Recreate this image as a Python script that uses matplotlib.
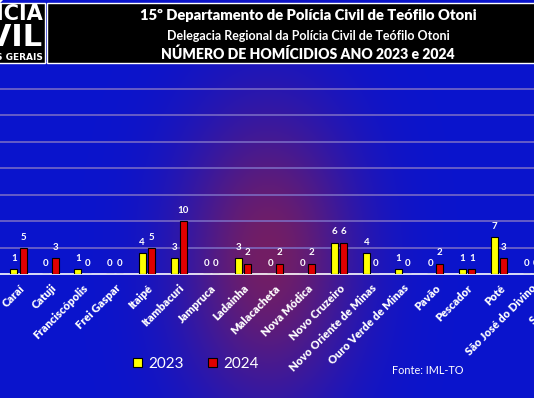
import numpy as np
import matplotlib.pyplot as plt
from matplotlib.patches import Rectangle

plt.rcParams['font.family'] = ['Lato', 'DejaVu Sans']

# municipalities (last one is cut off at the right edge, only its label shows)
municipios = ['Caraí', 'Catuji', 'Franciscópolis', 'Frei Gaspar', 'Itaipé', 'Itambacuri',
              'Jampruca', 'Ladainha', 'Malacacheta', 'Nova Módica', 'Novo Cruzeiro',
              'Novo Oriente de Minas', 'Ouro Verde de Minas', 'Pavão', 'Pescador', 'Poté',
              'São José do Divino', 'Setubinha']
hom_2023 = [1, 0, 1, 0, 4, 3, 0, 3, 0, 0, 6, 4, 1, 0, 1, 7, 0]
hom_2024 = [5, 3, 0, 0, 5, 10, 0, 2, 2, 2, 6, 0, 0, 2, 1, 3, 0]
anos = ['2023', '2024']

titulo1 = '15º Departamento de Polícia Civil de Teófilo Otoni'
titulo2 = 'Delegacia Regional da Polícia Civil de Teófilo Otoni'
titulo3 = 'NÚMERO DE HOMÍCIDIOS ANO 2023 e 2024'
fonte = 'Fonte: IML-TO'

W, H = 534, 398
fig = plt.figure(figsize=(W / 100, H / 100), dpi=100)

# background: blue with a purple/red glow in the middle
bg = fig.add_axes([0, 0, 1, 1], zorder=0)
bg.axis('off')
yy, xx = np.mgrid[0:H, 0:W]
t = np.exp(-(((xx - 268) / 88.0) ** 2 + ((yy - 255) / 150.0) ** 2))[..., None]
edge = np.array([10, 20, 205]) / 255
mid = np.array([115, 30, 100]) / 255
bg.imshow(edge * (1 - t) + mid * t, aspect='auto', extent=(0, 1, 0, 1))
bg.set_xlim(0, 1)
bg.set_ylim(0, 1)

# main axes (the chart is cropped, so the axes run past the figure edges)
base_y, px_unit, ymax = 274.3, 5.3, 40
x0, step = 18.5, 32.05
xlo, xhi = -1.5, 17.5
left = (x0 + xlo * step) / W
width = (xhi - xlo) * step / W
bottom = (H - base_y) / H
height = ymax * px_unit / H
ax = fig.add_axes([left, bottom, width, height], zorder=1)
ax.patch.set_alpha(0)

x = np.arange(len(hom_2023))
w = 0.22
b1 = ax.bar(x - 0.145, hom_2023, w, color='#ffff00', edgecolor='black', lw=0.8, zorder=3)
b2 = ax.bar(x + 0.145, hom_2024, w, color='#e00000', edgecolor='black', lw=0.8, zorder=3)
for b in (b1, b2):
    ax.bar_label(b, padding=4.5, color='white', fontsize=7, fontweight='bold')

ax.set_xlim(xlo, xhi)
ax.set_ylim(0, ymax)
ax.set_yticks(range(5, 45, 5))
ax.yaxis.grid(True, color='#7e70c6', lw=1.1)
ax.set_axisbelow(True)
for s in ['top', 'left', 'right']:
    ax.spines[s].set_visible(False)
ax.spines['bottom'].set_color('white')
ax.spines['bottom'].set_linewidth(1.2)
ax.tick_params(axis='y', length=0, labelleft=False)
ax.tick_params(axis='x', length=0, pad=6)
ax.set_xticks(range(len(municipios)))
ax.set_xticklabels(municipios, rotation=45, ha='right', rotation_mode='anchor',
                   color='white', fontweight='heavy', fontsize=8)

ax.legend([b1, b2], anos, loc='center', bbox_to_anchor=(196 / W, 1 - 364 / H),
          bbox_transform=fig.transFigure, ncol=2, frameon=False, fontsize=11,
          labelcolor='white', handlelength=0.6, handleheight=0.6,
          handletextpad=0.4, columnspacing=1.6)

# header overlay in pixel coordinates
hdr = fig.add_axes([0, 0, 1, 1], zorder=5)
hdr.axis('off')
hdr.set_xlim(0, W)
hdr.set_ylim(H, 0)
hdr.add_patch(Rectangle((-5, 3), 50, 60, facecolor='black', edgecolor='white', lw=1))
hdr.add_patch(Rectangle((47, 3), 500, 60, facecolor='black', edgecolor='white', lw=1))

hdr.text(43, 14, 'POLÍCIA', color='white', fontsize=15, fontweight='bold',
         ha='right', va='center', family=['Liberation Sans Narrow', 'DejaVu Sans'])
hdr.text(43, 37, 'CIVIL', color='white', fontsize=22, fontweight='bold',
         ha='right', va='center', family=['Liberation Sans Narrow', 'DejaVu Sans'])
hdr.text(43, 57, 'MINAS GERAIS', color='white', fontsize=6.5, fontweight='bold',
         ha='right', va='center', family=['Liberation Sans Narrow', 'DejaVu Sans'])

hdr.text(308, 16, titulo1, color='white', fontsize=10.6, fontweight='heavy', ha='center', va='center')
hdr.text(308, 36, titulo2, color='white', fontsize=9.0, fontweight='bold', ha='center', va='center')
hdr.text(308, 54, titulo3, color='white', fontsize=10.1, fontweight='heavy', ha='center', va='center')

hdr.text(392, 370, fonte, color='white', fontsize=7.8, ha='left', va='center')

fig.savefig('out.png', dpi=100)
